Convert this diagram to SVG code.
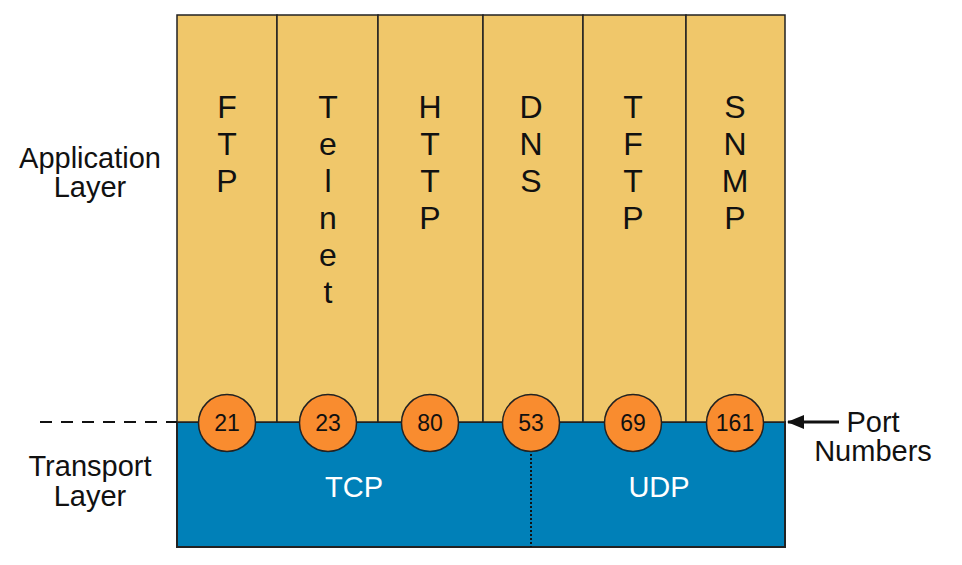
<svg xmlns="http://www.w3.org/2000/svg" width="962" height="565" viewBox="0 0 962 565">
<style>
.lbl{font-family:"Liberation Sans",Arial,sans-serif;fill:#111;text-anchor:middle}
.proto{font-size:32px}
.side{font-size:29px}
.port{font-family:"Liberation Sans",Arial,sans-serif;font-size:23px;fill:#111;text-anchor:middle}
.col{fill:#F0C76A;stroke:#222;stroke-width:1.5}
.circ{fill:#F98C2F;stroke:#222;stroke-width:1.5}
.white{font-family:"Liberation Sans",Arial,sans-serif;font-size:29px;fill:#fff;text-anchor:middle}
</style>
<defs>
<marker id="ah" markerWidth="17" markerHeight="14" refX="16" refY="7" orient="auto" markerUnits="userSpaceOnUse">
<path d="M0,0 L17,7 L0,14 z" fill="#111"/>
</marker>
</defs>
<rect width="962" height="565" fill="#fff"/>
<g id="transport">
<rect x="177" y="422" width="608" height="125" fill="#0080B8" stroke="#222" stroke-width="2"/>
<text class="white" x="354" y="497">TCP</text>
<text class="white" x="659" y="497">UDP</text>
</g>
<g id="app-cols">
<g id="ftp"><rect class="col" x="177" y="15" width="100" height="407"/>
<text class="lbl proto" x="227" y="118">F</text><text class="lbl proto" x="227" y="155">T</text><text class="lbl proto" x="227" y="192">P</text></g>
<g id="telnet"><rect class="col" x="277" y="15" width="101" height="407"/>
<text class="lbl proto" x="328" y="118">T</text><text class="lbl proto" x="328" y="155">e</text><text class="lbl proto" x="328" y="192">l</text><text class="lbl proto" x="328" y="229">n</text><text class="lbl proto" x="328" y="266">e</text><text class="lbl proto" x="328" y="303">t</text></g>
<g id="http"><rect class="col" x="378" y="15" width="105" height="407"/>
<text class="lbl proto" x="430" y="118">H</text><text class="lbl proto" x="430" y="155">T</text><text class="lbl proto" x="430" y="192">T</text><text class="lbl proto" x="430" y="229">P</text></g>
<g id="dns"><rect class="col" x="483" y="15" width="100" height="407"/>
<text class="lbl proto" x="531" y="118">D</text><text class="lbl proto" x="531" y="155">N</text><text class="lbl proto" x="531" y="192">S</text></g>
<g id="tftp"><rect class="col" x="583" y="15" width="103" height="407"/>
<text class="lbl proto" x="633" y="118">T</text><text class="lbl proto" x="633" y="155">F</text><text class="lbl proto" x="633" y="192">T</text><text class="lbl proto" x="633" y="229">P</text></g>
<g id="snmp"><rect class="col" x="686" y="15" width="99" height="407"/>
<text class="lbl proto" x="735" y="118">S</text><text class="lbl proto" x="735" y="155">N</text><text class="lbl proto" x="735" y="192">M</text><text class="lbl proto" x="735" y="229">P</text></g>
</g>
<g id="connectors">
<line x1="40" y1="422" x2="177" y2="422" stroke="#111" stroke-width="2" stroke-dasharray="12,9"/>
<line x1="531" y1="450" x2="531" y2="547" stroke="#111" stroke-width="2" stroke-dasharray="2,2"/>
<line x1="839" y1="422" x2="788" y2="422" stroke="#111" stroke-width="3" marker-end="url(#ah)"/>
</g>
<g id="ports">
<g id="p21"><circle class="circ" cx="227" cy="423" r="28.5"/><text class="port" x="227" y="431">21</text></g>
<g id="p23"><circle class="circ" cx="328" cy="423" r="28.5"/><text class="port" x="328" y="431">23</text></g>
<g id="p80"><circle class="circ" cx="430" cy="423" r="28.5"/><text class="port" x="430" y="431">80</text></g>
<g id="p53"><circle class="circ" cx="531" cy="423" r="28.5"/><text class="port" x="531" y="431">53</text></g>
<g id="p69"><circle class="circ" cx="633" cy="423" r="28.5"/><text class="port" x="633" y="431">69</text></g>
<g id="p161"><circle class="circ" cx="735" cy="423" r="28.5"/><text class="port" x="735" y="431">161</text></g>
</g>
<g id="labels">
<text class="lbl side" x="90" y="168">Application</text>
<text class="lbl side" x="90" y="197">Layer</text>
<text class="lbl side" x="90" y="476">Transport</text>
<text class="lbl side" x="90" y="506">Layer</text>
<text class="lbl side" x="873" y="432">Port</text>
<text class="lbl side" x="873" y="461">Numbers</text>
</g>
</svg>
